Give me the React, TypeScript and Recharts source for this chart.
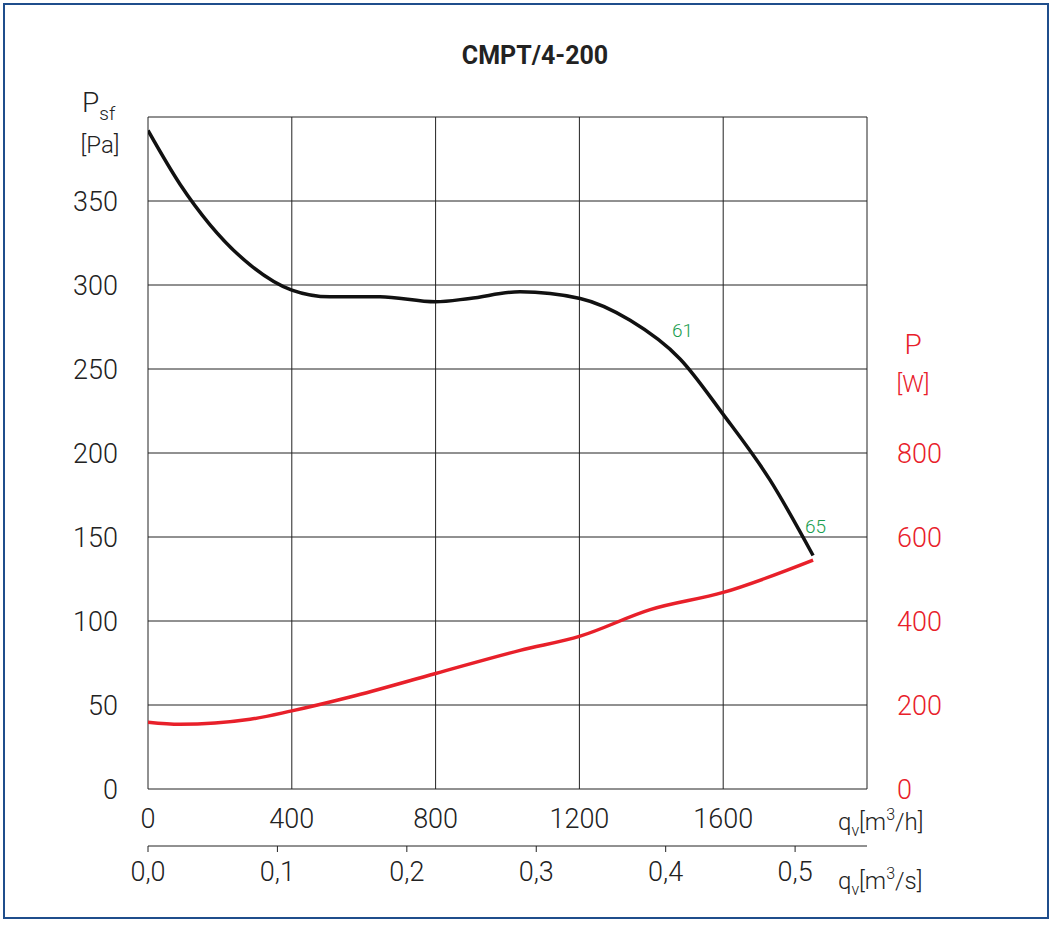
import { ComposedChart, Line, XAxis, YAxis, CartesianGrid } from "recharts";

const pressure = [
  { q: 0, pa: 392 },
  { q: 89, pa: 360 },
  { q: 172, pa: 336 },
  { q: 284, pa: 312 },
  { q: 400, pa: 297 },
  { q: 506, pa: 293 },
  { q: 645, pa: 293 },
  { q: 800, pa: 290 },
  { q: 895, pa: 292 },
  { q: 1035, pa: 296 },
  { q: 1202, pa: 292 },
  { q: 1341, pa: 279 },
  { q: 1480, pa: 256, eff: 61 },
  { q: 1600, pa: 223 },
  { q: 1730, pa: 184 },
  { q: 1850, pa: 139, eff: 65 },
];

const power = [
  { q: 0, w: 159 },
  { q: 89, w: 154 },
  { q: 284, w: 166 },
  { q: 400, w: 186 },
  { q: 562, w: 219 },
  { q: 800, w: 275 },
  { q: 1035, w: 330 },
  { q: 1202, w: 364 },
  { q: 1397, w: 427 },
  { q: 1600, w: 468 },
  { q: 1850, w: 545 },
];

const qTicks = [0, 400, 800, 1200, 1600];
const qsTicks = [0, 0.1, 0.2, 0.3, 0.4, 0.5];
const paTicks = [0, 50, 100, 150, 200, 250, 300, 350, 400];
const wTicks = [0, 200, 400, 600, 800];

const FONT = "Roboto, 'DejaVu Sans', sans-serif";
const RED = "#e8202a";
const GREEN = "#1a9e50";

const effLabel = (props: any) => {
  const { x, y, index } = props;
  const e = pressure[index]?.eff;
  if (!e) return null;
  return (
    <text x={x - 8} y={y - 22} fill={GREEN} fontSize={19} fontFamily={FONT} fontWeight={300}>
      {e}
    </text>
  );
};

export default function App() {
  const tick = { fontSize: 27, fill: "#222", fontFamily: FONT, fontWeight: 300 };
  return (
    <div style={{ position: "fixed", left: 0, top: 0, width: 1055, height: 925, background: "#fff" }}>
      <div
        style={{
          position: "absolute", left: 3, top: 3, width: 1046, height: 916,
          border: "2px solid #1f4e8c", boxSizing: "border-box",
        }}
      />
      <ComposedChart width={1055} height={925} margin={{ top: 117, right: 0, bottom: 0, left: 0 }}>
        <CartesianGrid xAxisId="h" yAxisId="pa" stroke="#222" strokeWidth={1} />
        <XAxis
          xAxisId="h" type="number" dataKey="q" domain={[0, 2000]} ticks={qTicks}
          axisLine={false} tickLine={false} height={57} tick={tick} tickMargin={14} allowDataOverflow
        />
        <XAxis
          xAxisId="s" type="number" dataKey={(d: any) => d.q / 3600} domain={[0, 2000 / 3600]}
          ticks={qsTicks} height={79} allowDataOverflow
          axisLine={{ stroke: "#222" }} tickLine={{ stroke: "#222" }} tickSize={6}
          tick={tick} tickMargin={10} tickFormatter={(v: number) => v.toFixed(1).replace(".", ",")}
        />
        <YAxis
          yAxisId="pa" type="number" domain={[0, 400]} ticks={paTicks} width={148}
          axisLine={false} tickLine={false} tick={tick} tickMargin={24}
          tickFormatter={(v: number) => (v === 400 ? "" : String(v))}
        />
        <YAxis
          yAxisId="w" orientation="right" type="number" domain={[0, 1600]} ticks={wTicks} width={188}
          axisLine={false} tickLine={false} tick={{ ...tick, fill: RED }} tickMargin={24}
        />
        <Line
          xAxisId="s" yAxisId="pa" data={pressure} dataKey="pa" stroke="none"
          dot={false} isAnimationActive={false}
        />
        <Line
          xAxisId="h" yAxisId="pa" data={pressure} dataKey="pa" type="monotone" stroke="#111"
          strokeWidth={3.5} dot={false} isAnimationActive={false} label={effLabel}
        />
        <Line
          xAxisId="h" yAxisId="w" data={power} dataKey="w" type="monotone" stroke={RED}
          strokeWidth={3.5} dot={false} isAnimationActive={false}
        />
      </ComposedChart>
      <svg width={1055} height={925} style={{ position: "absolute", left: 0, top: 0, pointerEvents: "none" }}>
        <g fontFamily={FONT}>
          <text x={535} y={64} textAnchor="middle" fontSize={25} fontWeight={700} fill="#222">CMPT/4-200</text>
          <text x={82} y={112} fontSize={28} fontWeight={300} fill="#222">P<tspan fontSize={19} dy={8}>sf</tspan></text>
          <text x={100} y={153} textAnchor="middle" fontSize={24} fontWeight={300} fill="#222">[Pa]</text>
          <text x={913} y={354} textAnchor="middle" fontSize={28} fontWeight={300} fill={RED}>P</text>
          <text x={913} y={392} textAnchor="middle" fontSize={24} fontWeight={300} fill={RED}>[W]</text>
          <text x={838} y={830} fontSize={24} fontWeight={300} fill="#222">q<tspan fontSize={16} dy={6}>v</tspan><tspan dy={-6}>[m</tspan><tspan fontSize={16} dy={-10}>3</tspan><tspan dy={10}>/h]</tspan></text>
          <text x={838} y={889} fontSize={24} fontWeight={300} fill="#222">q<tspan fontSize={16} dy={6}>v</tspan><tspan dy={-6}>[m</tspan><tspan fontSize={16} dy={-10}>3</tspan><tspan dy={10}>/s]</tspan></text>
        </g>
      </svg>
    </div>
  );
}
